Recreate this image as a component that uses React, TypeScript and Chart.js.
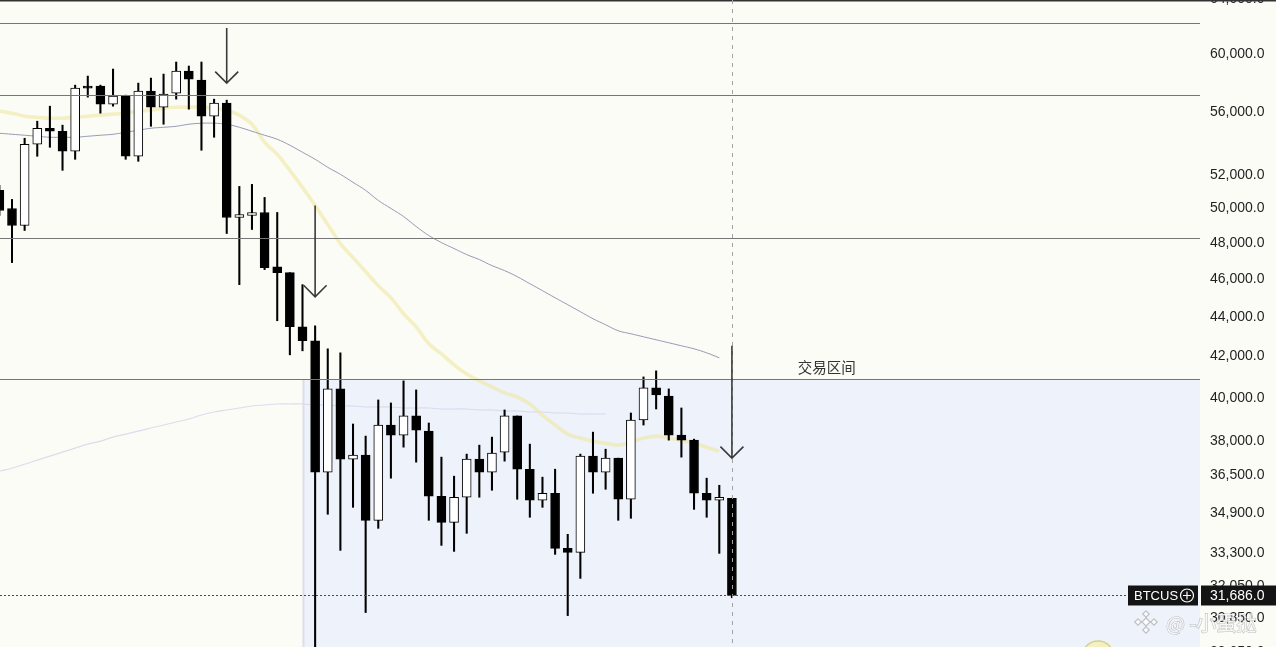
import React, { useEffect, useRef } from 'react';
import { Chart, registerables } from 'chart.js';

Chart.register(...registerables);

// ---- Data (BTCUS daily candles) ----
const opens = [51087, 50010, 49016, 53942, 54971, 54776, 53499, 57771, 57771, 56555, 57091, 53184, 57431, 56354, 57295, 58806, 58183, 55759, 56622, 49479, 49597, 49774, 46690, 46365, 43497, 42784, 36643, 40424, 37211, 37388, 34622, 38739, 38281, 39156, 38461, 35619, 34540, 35577, 37211, 36643, 37520, 39156, 36772, 35450, 35745, 33493, 33337, 37344, 36643, 37256, 35492, 38969, 40472, 40088, 38281, 38055, 35745, 35450, 35535];
const highs = [51390, 50546, 54326, 55429, 56421, 55170, 57838, 58459, 57838, 58946, 57158, 57976, 58321, 58596, 59436, 59156, 59436, 56890, 56823, 51327, 51450, 50666, 49774, 46365, 45713, 43548, 42381, 42181, 38785, 38236, 39901, 39760, 40808, 40376, 38831, 37300, 36471, 37432, 37830, 38190, 39433, 39156, 37875, 36428, 36772, 34055, 37432, 38416, 37650, 37256, 39292, 40999, 41293, 40424, 39525, 38100, 36385, 36082, 35535];
const lows = [49600, 46917, 48727, 53184, 53750, 52310, 52995, 57024, 55958, 56421, 52995, 52870, 55099, 55231, 56890, 56222, 53562, 54390, 48553, 45713, 48785, 46530, 43808, 42081, 42281, 29000, 34869, 33415, 35156, 31053, 34295, 36385, 37740, 37079, 34622, 33613, 33376, 34095, 35577, 35871, 37123, 35492, 34746, 35156, 33259, 30942, 32330, 35745, 35912, 34622, 34704, 38739, 39478, 38055, 37300, 35072, 34746, 33298, 31600];
const closes = [49892, 49016, 53942, 54971, 54776, 53499, 57635, 57635, 56555, 57091, 53184, 57431, 56354, 57227, 58806, 58252, 55759, 56622, 49479, 49656, 49774, 46636, 46365, 43497, 42784, 36643, 40424, 37211, 37388, 34622, 38739, 38281, 39156, 38506, 35619, 34540, 35577, 37211, 36643, 37476, 39156, 36772, 35450, 35745, 33493, 33337, 37344, 36643, 37256, 35492, 38969, 40472, 40136, 38281, 38055, 35745, 35450, 35577, 31686];

const maFast = [56090, 55958, 55759, 55693, 55627, 55627, 55693, 55759, 55826, 55892, 55958, 56090, 56156, 56288, 56354, 56354, 56354, 56288, 56156, 55826, 55231, 54070, 53310, 52310, 51267, 50186, 49074, 47982, 47196, 46420, 45659, 45011, 44173, 43496, 42631, 42131, 41588, 41146, 40808, 40520, 40232, 40040, 39713, 39198, 38739, 38326, 38146, 38010, 37920, 37830, 37965, 38146, 38236, 38146, 38055, 37920, 37740, 37564];
const maSlow = [54647, 54583, 54519, 54455, 54390, 54390, 54390, 54455, 54519, 54583, 54711, 54841, 54971, 55033, 55099, 55231, 55297, 55297, 55231, 55033, 54776, 54519, 54262, 53880, 53436, 52995, 52496, 52063, 51574, 51087, 50486, 50010, 49539, 48958, 48440, 48039, 47700, 47362, 47084, 46750, 46475, 46146, 45766, 45389, 45011, 44644, 44277, 43912, 43601, 43293, 43140, 42987, 42835, 42684, 42533, 42381, 42181, 41933];
const maLong = [36686, 36815, 36987, 37167, 37344, 37520, 37697, 37875, 38010, 38190, 38326, 38461, 38599, 38739, 38877, 39015, 39198, 39339, 39433, 39527, 39620, 39667, 39713, 39713, 39713, 39667, 39667, 39620, 39620, 39573, 39573, 39573, 39527, 39527, 39527, 39480, 39480, 39480, 39433, 39433, 39386, 39386, 39339, 39339, 39292, 39292, 39245, 39245, 39245];

const yTicks = [64000, 60000, 56000, 52000, 50000, 48000, 46000, 44000, 42000, 40000, 38000, 36500, 34900, 33300, 32050, 30850, 29650];
const levels = [62240, 57160, 48320, 40900];
const arrows = [
  { at: 18, from: 61873, to: 57976 },
  { at: 25, from: 50186, to: 45065 },
  { at: 58, from: 42531, to: 37255 },
];
const rangeStart = 24;
const rangeTop = 40900;
const rangeLabel = '交易区间';
const rangeLabelAt = { i: 65.5, price: 41440 };
const lastPrice = 31686;
const symbol = 'BTCUS';
const crosshairAt = 58;
const watermark = '@ -小蛋挞';

const W = 1276;
const H = 647;

const fmt = (v: number) =>
  Number(v).toLocaleString('en-US', { minimumFractionDigits: 1, maximumFractionDigits: 1 });

export default function App() {
  const ref = useRef<HTMLCanvasElement>(null);

  useEffect(() => {
    const canvas = ref.current;
    if (!canvas) return;

    const overlay = {
      id: 'overlay',
      beforeDraw(chart: any) {
        const { ctx } = chart;
        ctx.save();
        ctx.fillStyle = '#fcfcf7';
        ctx.fillRect(0, 0, chart.width, chart.height);
        ctx.restore();
      },
      beforeDatasetsDraw(chart: any) {
        const { ctx, chartArea: ca } = chart;
        const x = chart.scales.x;
        const y = chart.scales.y;
        ctx.save();
        const bx = x.getPixelForValue(rangeStart);
        const by = y.getPixelForValue(rangeTop);
        ctx.fillStyle = '#eef2fa';
        ctx.fillRect(bx, by, ca.right - bx, ca.bottom - by);
        ctx.strokeStyle = '#dcdfe6';
        ctx.lineWidth = 2;
        ctx.beginPath();
        ctx.moveTo(bx + 1, by);
        ctx.lineTo(bx + 1, ca.bottom);
        ctx.stroke();
        ctx.restore();
      },
      afterDraw(chart: any) {
        const { ctx, chartArea: ca } = chart;
        const x = chart.scales.x;
        const y = chart.scales.y;
        ctx.save();
        // horizontal levels
        ctx.strokeStyle = '#767676';
        ctx.lineWidth = 1.2;
        levels.forEach((v) => {
          const py = Math.round(y.getPixelForValue(v)) + 0.5;
          ctx.beginPath();
          ctx.moveTo(ca.left, py);
          ctx.lineTo(ca.right, py);
          ctx.stroke();
        });
        // top frame line
        ctx.fillStyle = '#333';
        ctx.fillRect(0, 0, W, 1.5);

        // crosshair dashed vertical
        const cx = Math.round(x.getPixelForValue(crosshairAt)) + 0.5;
        ctx.strokeStyle = '#a3a3a3';
        ctx.lineWidth = 1;
        ctx.setLineDash([4, 5]);
        ctx.beginPath();
        ctx.moveTo(cx, ca.top);
        ctx.lineTo(cx, ca.bottom);
        ctx.stroke();

        // price line (dotted)
        const py = Math.round(y.getPixelForValue(lastPrice)) + 0.5;
        ctx.strokeStyle = '#4a4a4a';
        ctx.setLineDash([2, 2]);
        ctx.beginPath();
        ctx.moveTo(ca.left, py);
        ctx.lineTo(1128, py);
        ctx.stroke();
        ctx.setLineDash([]);

        // arrows
        ctx.strokeStyle = '#3a3a3a';
        ctx.lineWidth = 1.6;
        arrows.forEach((a) => {
          const ax = x.getPixelForValue(a.at);
          const y1 = y.getPixelForValue(a.from);
          const y2 = y.getPixelForValue(a.to);
          ctx.beginPath();
          ctx.moveTo(ax, y1);
          ctx.lineTo(ax, y2);
          ctx.moveTo(ax - 11.5, y2 - 11.5);
          ctx.lineTo(ax, y2);
          ctx.lineTo(ax + 11.5, y2 - 11.5);
          ctx.stroke();
        });

        // range label
        ctx.fillStyle = '#333';
        ctx.font = '14.5px "Noto Sans CJK SC", sans-serif';
        ctx.textAlign = 'center';
        ctx.textBaseline = 'middle';
        ctx.fillText(rangeLabel, x.getPixelForValue(rangeLabelAt.i), y.getPixelForValue(rangeLabelAt.price));

        // avatar circle (partial)
        ctx.beginPath();
        ctx.arc(1098, 657, 16, 0, Math.PI * 2);
        ctx.fillStyle = '#f4f0c2';
        ctx.fill();
        ctx.strokeStyle = '#d9d08a';
        ctx.lineWidth = 1.5;
        ctx.stroke();

        // symbol tag
        ctx.fillStyle = '#141414';
        ctx.fillRect(1128, py - 10, 70, 20);
        ctx.fillRect(1201, py - 10, W - 1201, 20);
        ctx.fillStyle = '#ffffff';
        ctx.textAlign = 'left';
        ctx.font = '13px "Liberation Sans", Arial, sans-serif';
        ctx.fillText(symbol, 1134, py + 0.5);
        ctx.strokeStyle = '#ffffff';
        ctx.lineWidth = 1.2;
        ctx.beginPath();
        ctx.arc(1187, py, 6.5, 0, Math.PI * 2);
        ctx.moveTo(1183, py);
        ctx.lineTo(1191, py);
        ctx.moveTo(1187, py - 4);
        ctx.lineTo(1187, py + 4);
        ctx.stroke();
        ctx.font = '14px "Liberation Sans", Arial, sans-serif';
        ctx.fillText(fmt(lastPrice), 1210, py + 0.5);

        // watermark
        ctx.globalAlpha = 0.85;
        ctx.fillStyle = '#ffffff';
        ctx.strokeStyle = 'rgba(140,140,140,0.6)';
        ctx.lineWidth = 1.2;
        const lx = 1146;
        const ly = 622;
        const dia = (cx0: number, cy0: number, r: number) => {
          ctx.beginPath();
          ctx.moveTo(cx0, cy0 - r);
          ctx.lineTo(cx0 + r, cy0);
          ctx.lineTo(cx0, cy0 + r);
          ctx.lineTo(cx0 - r, cy0);
          ctx.closePath();
          ctx.fill();
          ctx.stroke();
        };
        dia(lx, ly, 4);
        dia(lx, ly - 8, 3.2);
        dia(lx, ly + 8, 3.2);
        dia(lx - 8, ly, 3.2);
        dia(lx + 8, ly, 3.2);
        ctx.font = '20px "Noto Sans CJK SC", sans-serif';
        ctx.textAlign = 'left';
        ctx.textBaseline = 'middle';
        ctx.strokeText(watermark, 1166, 623);
        ctx.fillText(watermark, 1166, 623);
        ctx.restore();
      },
    };

    const bodyColors = opens.map((o, i) => (closes[i] >= o ? '#ffffff' : '#000000'));

    const chart = new Chart(canvas, {
      type: 'bar',
      data: {
        datasets: [
          {
            type: 'line',
            label: 'MA long',
            data: maLong.map((v, i) => ({ x: i, y: v })),
            borderColor: 'rgba(214,214,236,0.85)',
            borderWidth: 1.1,
            pointRadius: 0,
            tension: 0.4,
            order: 5,
          } as any,
          {
            type: 'line',
            label: 'MA fast',
            data: maFast.map((v, i) => ({ x: i, y: v })),
            borderColor: 'rgba(238,232,160,0.6)',
            borderWidth: 3.6,
            pointRadius: 0,
            tension: 0.4,
            order: 4,
          } as any,
          {
            type: 'line',
            label: 'MA slow',
            data: maSlow.map((v, i) => ({ x: i, y: v })),
            borderColor: '#959bb6',
            borderWidth: 1,
            pointRadius: 0,
            tension: 0.4,
            order: 3,
          } as any,
          {
            label: 'wicks',
            data: highs.map((h, i) => ({ x: i, y: [lows[i], h] })),
            backgroundColor: '#000000',
            barThickness: 1.4,
            grouped: false,
            order: 2,
          } as any,
          {
            label: 'bodies',
            data: opens.map((o, i) => ({ x: i, y: [o, closes[i]] })),
            backgroundColor: bodyColors,
            borderColor: '#000000',
            borderWidth: 1,
            borderSkipped: false,
            barThickness: 9,
            grouped: false,
            order: 1,
          } as any,
        ],
      },
      options: {
        responsive: false,
        animation: false,
        layout: { padding: 0 },
        plugins: {
          legend: { display: false },
          tooltip: { enabled: false },
        },
        scales: {
          x: {
            type: 'linear',
            display: false,
            offset: false,
            min: 0.05,
            max: 95.06,
          },
          y: {
            type: 'logarithmic',
            position: 'right',
            min: 29817,
            max: 63946,
            bounds: 'data',
            grid: { display: false, drawTicks: false },
            border: { display: false },
            ticks: {
              autoSkip: false,
              padding: 10,
              color: '#1f1f1f',
              font: { family: '"Liberation Sans", Arial, sans-serif', size: 14 },
              callback: (v: any) => fmt(Number(v)),
            },
            afterBuildTicks: (scale: any) => {
              scale.ticks = yTicks.map((v) => ({ value: v }));
            },
            afterFit: (scale: any) => {
              scale.width = 76;
              scale.paddingTop = 0;
              scale.paddingBottom = 0;
            },
          } as any,
        },
      },
      plugins: [overlay],
    });

    return () => chart.destroy();
  }, []);

  return (
    <div style={{ position: 'fixed', left: 0, top: 0, width: W, height: H, background: '#fcfcf7' }}>
      <canvas ref={ref} width={W} height={H} style={{ display: 'block', width: W, height: H }} />
    </div>
  );
}
